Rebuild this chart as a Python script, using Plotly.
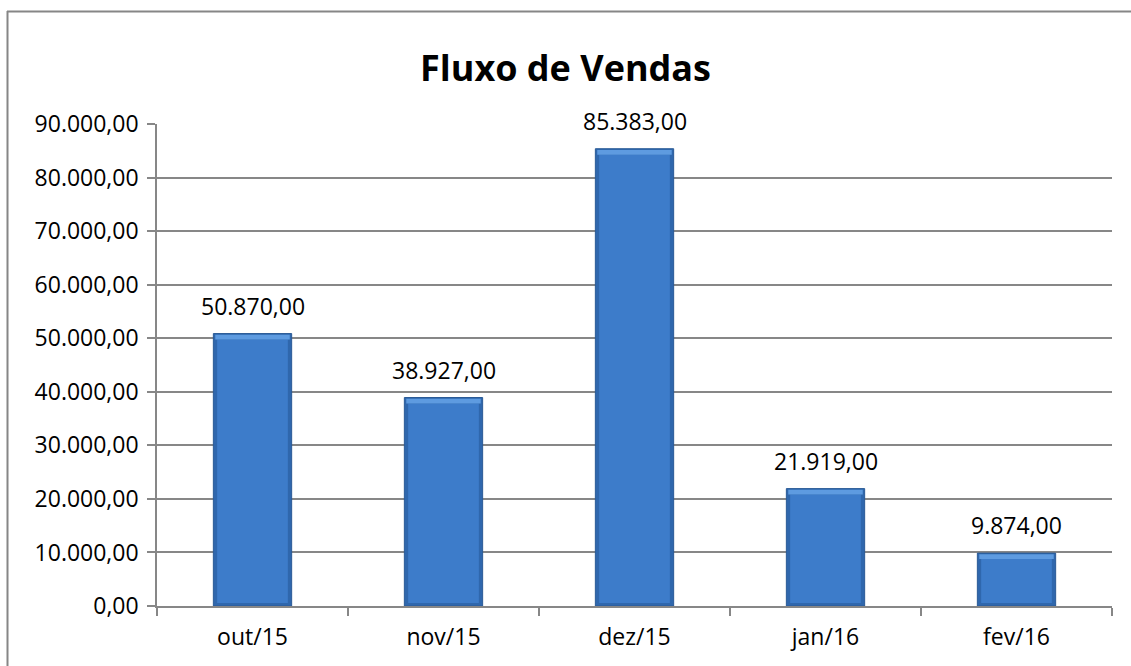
import plotly.graph_objects as go

categories = ["out/15", "nov/15", "dez/15", "jan/16", "fev/16"]
values = [50870.00, 38927.00, 85383.00, 21919.00, 9874.00]
y_ticks = [0, 10000, 20000, 30000, 40000, 50000, 60000, 70000, 80000, 90000]

W, H = 1131, 666
ML, MR, MT, MB = 157, 19, 124, 60
PW, PH = W - ML - MR, H - MT - MB
Y_MAX = 90000
UNITS_PER_PX = Y_MAX / PH

def px_to_paper_x(px):
    return (px - ML) / PW

def px_to_paper_y(py):
    return (H - MB - py) / PH

FONT = "Open Sans"

def fmt_br(v):
    return f"{v:,.2f}".replace(",", "X").replace(".", ",").replace("X", ".")

fig = go.Figure()
# outer (bevel edge) bar
fig.add_trace(go.Bar(
    x=categories, y=values, width=0.41,
    marker=dict(color="#2f67ad", line=dict(color="#2a5a96", width=1)),
    hoverinfo="skip",
))
# inner face of the bar (slightly inset to imitate the bevel)
top_inset = 6 * UNITS_PER_PX
bot_inset = 3 * UNITS_PER_PX
fig.add_trace(go.Bar(
    x=categories, y=[v - top_inset - bot_inset for v in values], base=[bot_inset] * len(values),
    width=0.37,
    marker=dict(color="#3d7cca", line=dict(width=0)),
    hoverinfo="skip",
))
# top highlight strip
fig.add_trace(go.Bar(
    x=categories, y=[top_inset * 0.8 for v in values], base=[v - top_inset for v in values],
    width=0.39,
    marker=dict(color="#5e9be0", line=dict(width=0)),
    hoverinfo="skip",
))

for c, v in zip(categories, values):
    fig.add_annotation(
        x=c, y=v, text=fmt_br(v),
        showarrow=False, yanchor="bottom", yshift=10,
        font=dict(family=FONT, size=23, color="#000000"),
    )

grid = "#878787"
fig.update_layout(
    width=W, height=H,
    barmode="overlay",
    margin=dict(l=ML, r=MR, t=MT, b=MB, autoexpand=False),
    paper_bgcolor="white", plot_bgcolor="white",
    separators=",.",
    showlegend=False,
    title=dict(text="<b>Fluxo de Vendas</b>", x=0.5, xanchor="center",
               y=1 - 68 / H, yanchor="middle",
               font=dict(family=FONT, size=36, color="#000000")),
    xaxis=dict(
        showline=True, linecolor=grid, linewidth=1.5,
        ticks="outside", tickson="boundaries", ticklen=8, tickcolor=grid, tickwidth=1.5,
        tickfont=dict(family=FONT, size=23, color="#000000"),
        ticklabelstandoff=10,
        showgrid=False,
    ),
    yaxis=dict(
        range=[0, Y_MAX], tickvals=y_ticks, tickformat=",.2f",
        showline=True, linecolor=grid, linewidth=1.5,
        ticks="outside", ticklen=8, tickcolor=grid, tickwidth=1.5,
        showgrid=True, gridcolor=grid, gridwidth=1.5,
        tickfont=dict(family=FONT, size=23, color="#000000"),
        ticklabelstandoff=4,
        zeroline=False,
    ),
    font=dict(family=FONT),
)

# outer chart border (left and top edges visible)
fig.add_shape(type="line", xref="paper", yref="paper",
              x0=px_to_paper_x(7), x1=px_to_paper_x(W + 5),
              y0=px_to_paper_y(11.5), y1=px_to_paper_y(11.5),
              line=dict(color="#868686", width=2))
fig.add_shape(type="line", xref="paper", yref="paper",
              x0=px_to_paper_x(7.5), x1=px_to_paper_x(7.5),
              y0=px_to_paper_y(11), y1=px_to_paper_y(H + 5),
              line=dict(color="#868686", width=2))

fig.write_html("out.html")
